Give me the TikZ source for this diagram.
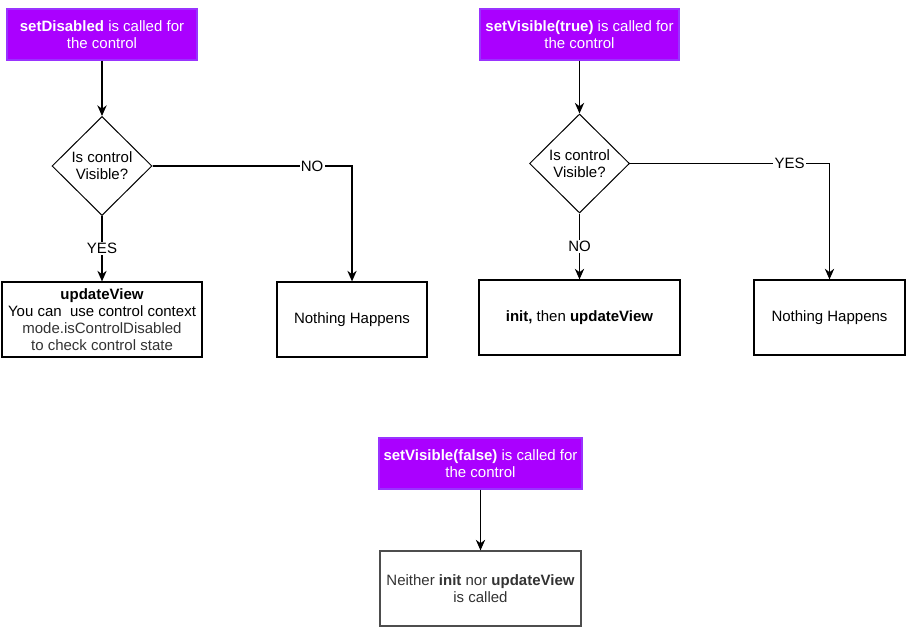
\documentclass[tikz,border=0pt]{standalone}
\usepackage{fontspec}
\setmainfont{Liberation Sans}
\usepackage{xcolor}
\usetikzlibrary{shapes.geometric,arrows.meta}
\definecolor{call-fill}{HTML}{AA00FF}
\definecolor{call-line}{HTML}{9933FF}
\definecolor{note-gray}{HTML}{333333}
\definecolor{frame-gray}{HTML}{4D4D4D}
\tikzset{
    flow-font/.style = {font=\fontsize{11.25}{12.9}\selectfont},
    call-box/.style = {draw=call-line, fill=call-fill, text=white, flow-font, line width=0.9pt, rectangle, align=center, inner sep=2pt, minimum height=38.25pt},
    plain-box/.style = {draw=black, fill=white, flow-font, line width=0.9pt, rectangle, align=center, inner sep=2pt, minimum height=56.25pt},
    check-diamond/.style = {draw=black, fill=white, flow-font, line width=0.75pt, diamond, align=center, inner sep=0pt, minimum width=75pt, minimum height=74.25pt},
    flow-arrow/.style = {draw=black, line width=0.9pt, -{Stealth[length=8pt, width=7pt]}},
    branch-label/.style = {fill=white, flow-font, inner sep=1pt},
}

\begin{document}
\begin{tikzpicture}[x=0.75pt, y=-0.75pt]
\useasboundingbox (0,0) rectangle (916,638);

% setDisabled
\node [call-box, minimum width=142.5pt] (disabled) at (102,34.5) {\textbf{setDisabled} is called for\\the control};
\node [check-diamond] (visible-a) at (102,166) {Is control\\Visible?};
\node [plain-box, minimum width=150pt] (update-view) at (102,319.5) {\textbf{updateView}\\You can\ \ use control context\\{\color{note-gray}mode.isControlDisabled}\\{\color{note-gray}to check control state}};
\node [plain-box, minimum width=112.5pt] (nothing-a) at (352,319.5) {Nothing Happens};

\draw [flow-arrow] (disabled) -- (visible-a);
\draw [flow-arrow] (visible-a) -- node[branch-label] {YES} (update-view);
\draw [flow-arrow] (visible-a.east) -| node[branch-label, pos=0.4] {NO} (nothing-a);

% setVisible(true)
\node [call-box, minimum width=149.25pt] (visible-true) at (579.5,34.5) {\textbf{setVisible(true)} is called for\\the control};
\node [check-diamond] (visible-b) at (579.5,163.5) {Is control\\Visible?};
\node [plain-box, minimum width=150.75pt] (init-update) at (579.5,317.5) {\textbf{init,} then \textbf{updateView}};
\node [plain-box, minimum width=113.25pt] (nothing-b) at (829.5,317.5) {Nothing Happens};

\draw [flow-arrow] (visible-true) -- (visible-b);
\draw [flow-arrow] (visible-b) -- node[branch-label] {NO} (init-update);
\draw [flow-arrow] (visible-b.east) -| node[branch-label, pos=0.4] {YES} (nothing-b);

% setVisible(false)
\node [call-box, minimum width=152.25pt] (visible-false) at (480.5,463.5) {\textbf{setVisible(false)} is called for\\the control};
\node [plain-box, draw=frame-gray, text=note-gray, minimum width=150.75pt] (neither) at (480.5,588.5) {Neither \textbf{init} nor \textbf{updateView}\\is called};

\draw [flow-arrow] (visible-false) -- (neither);
\end{tikzpicture}
\end{document}
